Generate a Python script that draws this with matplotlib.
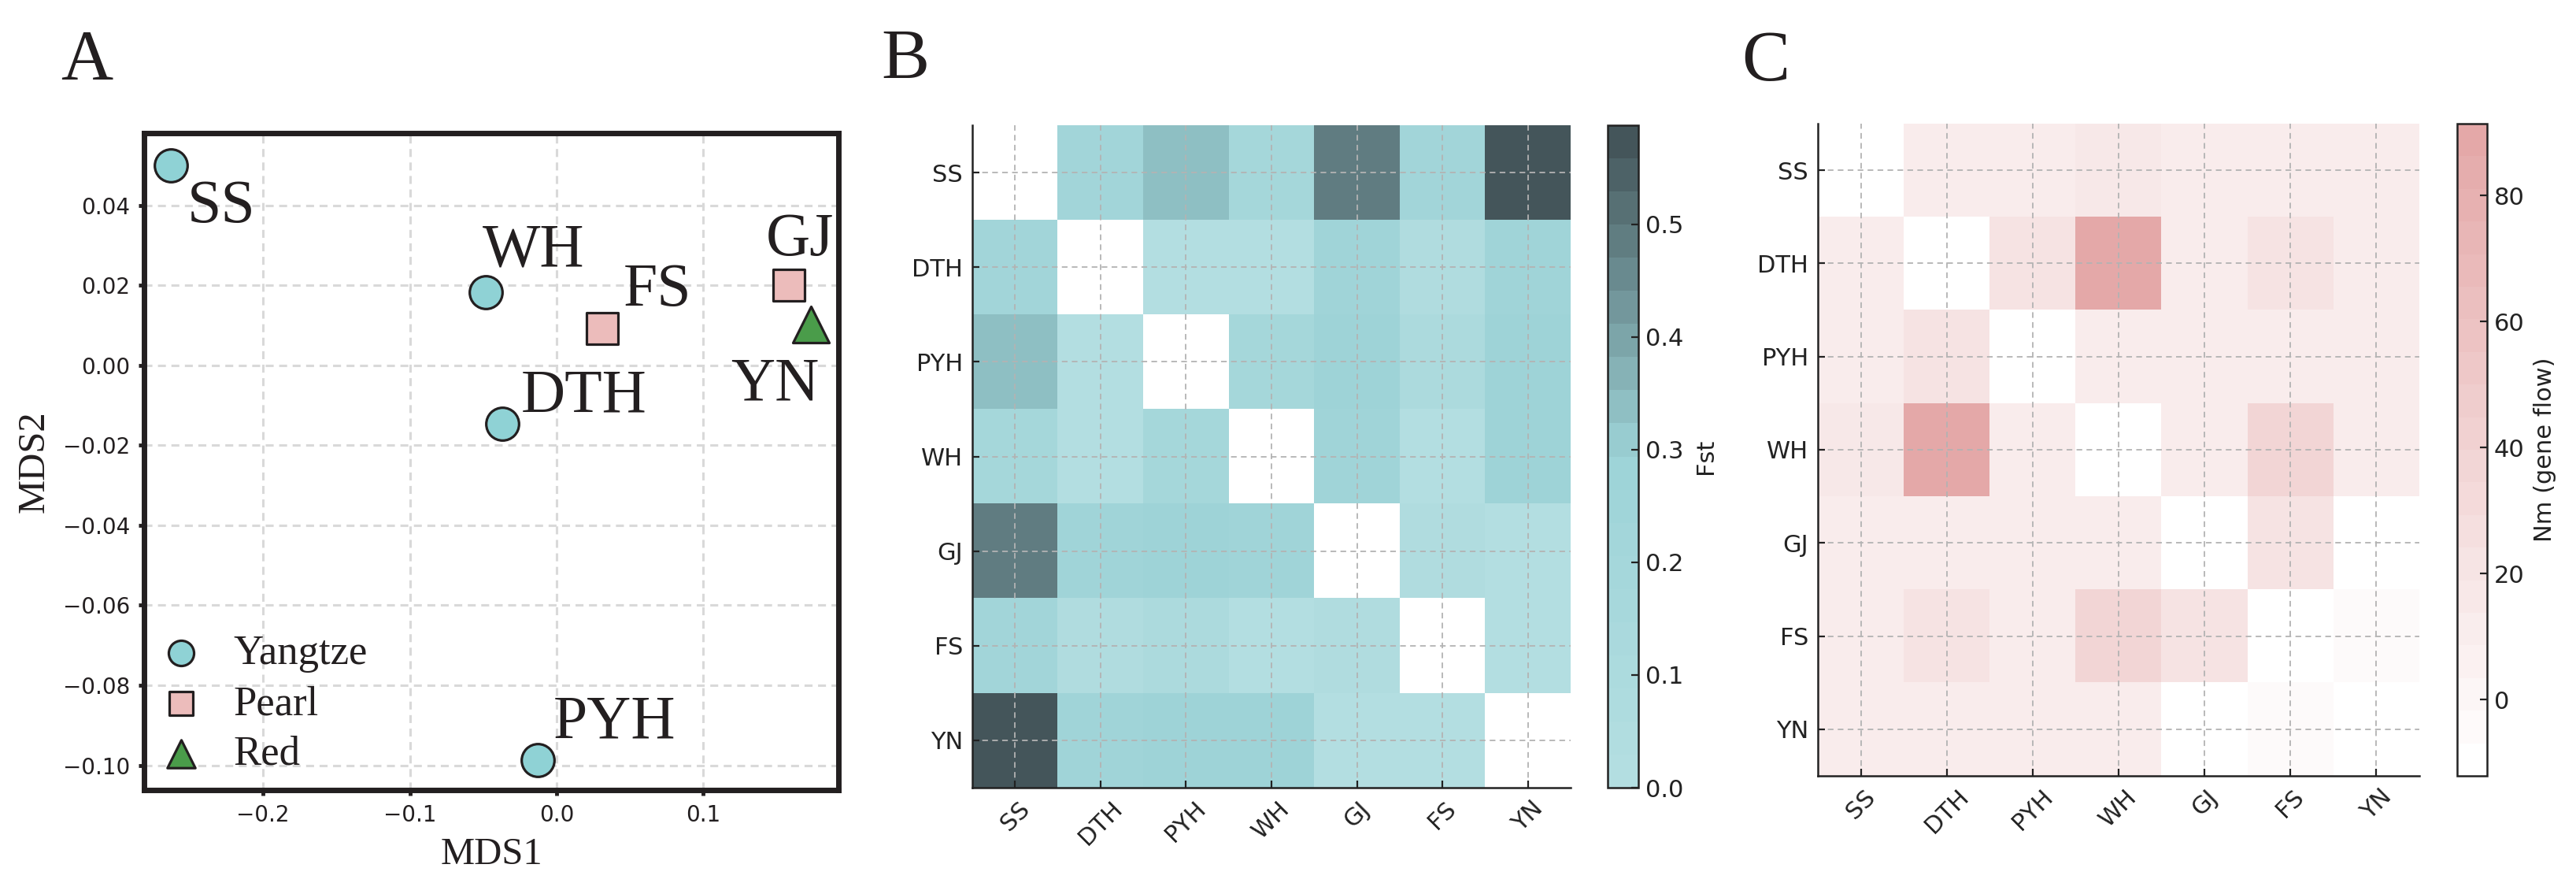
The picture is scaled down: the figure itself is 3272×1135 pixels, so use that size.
import numpy as np
import matplotlib
matplotlib.use("Agg")
import matplotlib.pyplot as plt
from matplotlib.colors import LinearSegmentedColormap

# ---------------- data ----------------
pops = ["SS", "DTH", "PYH", "WH", "GJ", "FS", "YN"]

# Panel A: MDS coordinates
mds1 = [-0.263, -0.037, -0.013, -0.048, 0.158, 0.031, 0.173]
mds2 = [0.050, -0.0146, -0.0987, 0.0183, 0.020, 0.0093, 0.0102]
river = ["Yangtze", "Yangtze", "Yangtze", "Yangtze", "Pearl", "Pearl", "Red"]
groups = ["Yangtze", "Pearl", "Red"]

# Panel B: pairwise Fst (diagonal empty)
fst_SS = [np.nan, 0.22, 0.35, 0.19, 0.48, 0.22, 0.588]
fst_DTH = [0.22, np.nan, 0.01, 0.01, 0.26, 0.03, 0.26]
fst_PYH = [0.35, 0.01, np.nan, 0.19, 0.27, 0.11, 0.27]
fst_WH = [0.19, 0.01, 0.19, np.nan, 0.24, 0.01, 0.27]
fst_GJ = [0.48, 0.26, 0.27, 0.24, np.nan, 0.03, 0.0]
fst_FS = [0.22, 0.03, 0.11, 0.01, 0.03, np.nan, 0.01]
fst_YN = [0.588, 0.26, 0.27, 0.27, 0.0, 0.01, np.nan]

# Panel C: Nm (gene flow)
nm_SS = [np.nan, 10.5, 10.5, 14.0, 10.5, 10.5, 10.5]
nm_DTH = [10.5, np.nan, 21.0, 91.4, 10.5, 21.0, 10.5]
nm_PYH = [10.5, 21.0, np.nan, 10.5, 10.5, 10.5, 10.5]
nm_WH = [14.0, 91.4, 10.5, np.nan, 12.0, 36.5, 10.5]
nm_GJ = [10.5, 10.5, 10.5, 12.0, np.nan, 20.0, -12.1]
nm_FS = [10.5, 21.0, 10.5, 36.5, 20.0, np.nan, -3.8]
nm_YN = [10.5, 10.5, 10.5, 10.5, -12.1, -3.8, np.nan]

fst_ticks = [0.0, 0.1, 0.2, 0.3, 0.4, 0.5]
nm_ticks = [0, 20, 40, 60, 80]
mds1_ticks = [-0.2, -0.1, 0.0, 0.1]
mds2_ticks = [-0.10, -0.08, -0.06, -0.04, -0.02, 0.00, 0.02, 0.04]

# ---------------- style ----------------
W, H = 3273, 1135
DPI = 100
SERIF = ["Liberation Serif", "DejaVu Serif"]
DARK = "#231f20"

fig = plt.figure(figsize=(W / DPI, H / DPI), dpi=DPI)
fig.patch.set_facecolor("white")


def rect(l, r, t, b):
    return [l / W, 1 - b / H, (r - l) / W, (b - t) / H]


# ---------------- Panel A ----------------
axA = fig.add_axes(rect(183, 1065, 169, 1003))
style = {
    "Yangtze": dict(marker="o", color="#8fd2d5", s=900),
    "Pearl": dict(marker="s", color="#ecbcbb", s=840),
    "Red": dict(marker="^", color="#4a9c4a", s=1100),
}
for g in groups:
    xs = [x for x, r in zip(mds1, river) if r == g]
    ys = [y for y, r in zip(mds2, river) if r == g]
    st = style[g]
    axA.scatter(xs, ys, marker=st["marker"], s=st["s"], facecolor=st["color"],
                edgecolor=DARK, linewidth=2.3, zorder=3, label=g)

# label offsets in points (x right, y up), baseline-anchored, left-aligned
offsets = {
    "SS": (15.0, -51.5),
    "WH": (-3.6, 24.5),
    "FS": (19.4, 21.0),
    "GJ": (-20.9, 27.4),
    "YN": (-73.4, -69.0),
    "DTH": (17.3, 11.5),
    "PYH": (14.4, 20.2),
}
for name, x, y in zip(pops, mds1, mds2):
    axA.annotate(name, (x, y), xytext=offsets[name], textcoords="offset points",
                 ha="left", va="baseline", fontsize=56, family=SERIF, color=DARK,
                 zorder=4)

axA.set_xlim(-0.281, 0.192)
axA.set_ylim(-0.1062, 0.0581)
axA.set_xticks(mds1_ticks)
axA.set_yticks(mds2_ticks)
axA.grid(True, color="#d9d9d9", linestyle=(0, (3.3, 2.3)), linewidth=2.2, zorder=0)
axA.set_axisbelow(True)
for sp in axA.spines.values():
    sp.set_linewidth(5)
    sp.set_color(DARK)
axA.tick_params(direction="out", length=5, width=3.5, color=DARK,
                labelsize=20, labelcolor=DARK, pad=8)
axA.set_xlabel("MDS1", fontsize=35, family=SERIF, color=DARK, labelpad=10)
axA.set_ylabel("MDS2", fontsize=35, family=SERIF, color=DARK, labelpad=10)
leg = axA.legend(loc="lower left", frameon=False, borderaxespad=0.0,
                 borderpad=0.4, handlelength=1.0, handletextpad=0.75,
                 labelspacing=0.3, markerscale=0.77,
                 prop={"family": SERIF, "size": 38})
for t in leg.get_texts():
    t.set_color(DARK)

# ---------------- Heatmaps ----------------
cmap_fst = LinearSegmentedColormap.from_list(
    "fst", [(0.0, "#b3dee1"), (0.5, "#9dd3d7"), (1.0, "#44555a")], N=20)
cmap_nm = LinearSegmentedColormap.from_list(
    "nm", [(0.0, "#ffffff"), (1.0, "#e4a8a8")], N=20)

fst = np.array([fst_SS, fst_DTH, fst_PYH, fst_WH, fst_GJ, fst_FS, fst_YN])
nm = np.array([nm_SS, nm_DTH, nm_PYH, nm_WH, nm_GJ, nm_FS, nm_YN])


def heat(ax, cax, data, cmap, vmin, vmax, ticks, label, labelpad):
    im = ax.imshow(data, cmap=cmap, vmin=vmin, vmax=vmax, aspect="auto",
                   interpolation="nearest")
    ax.set_xticks(range(len(pops)))
    ax.set_xticklabels(pops, rotation=45)
    ax.set_yticks(range(len(pops)))
    ax.set_yticklabels(pops)
    ax.grid(True, color="#b3b3b3", linestyle=(0, (4, 3)), linewidth=1.3)
    for s in ("top", "right"):
        ax.spines[s].set_visible(False)
    for s in ("left", "bottom"):
        ax.spines[s].set_linewidth(1.8)
        ax.spines[s].set_color("#222222")
    ax.tick_params(direction="in", length=6.5, width=1.6, color="#222222",
                   labelsize=22, labelcolor="#222222", pad=8.6)
    cb = fig.colorbar(im, cax=cax)
    cb.outline.set_linewidth(1.8)
    cb.outline.set_edgecolor("#222222")
    cb.set_ticks(ticks)
    cax.tick_params(direction="in", length=6.5, width=1.6, color="#222222",
                    labelsize=22, labelcolor="#222222", pad=6.5)
    cb.set_label(label, fontsize=22, color="#222222", labelpad=labelpad)
    return im


axB = fig.add_axes(rect(1235, 1995, 159, 1000))
caxB = fig.add_axes(rect(2042, 2081, 159, 1000))
heat(axB, caxB, fst, cmap_fst, 0.0, np.nanmax(fst), fst_ticks, "Fst", 10)

axC = fig.add_axes(rect(2309, 3073, 157, 985))
caxC = fig.add_axes(rect(3121, 3159, 157, 985))
heat(axC, caxC, nm, cmap_nm, np.nanmin(nm), np.nanmax(nm), nm_ticks,
     "Nm (gene flow)", 8)

# ---------------- Panel letters ----------------
for letter, px, py in (("A", 77, 101), ("B", 1119, 100), ("C", 2212, 102)):
    fig.text(px / W, 1 - py / H, letter, fontsize=66, family=SERIF,
             color=DARK, ha="left", va="baseline")

fig.savefig("out.png", dpi=DPI, facecolor="white")
